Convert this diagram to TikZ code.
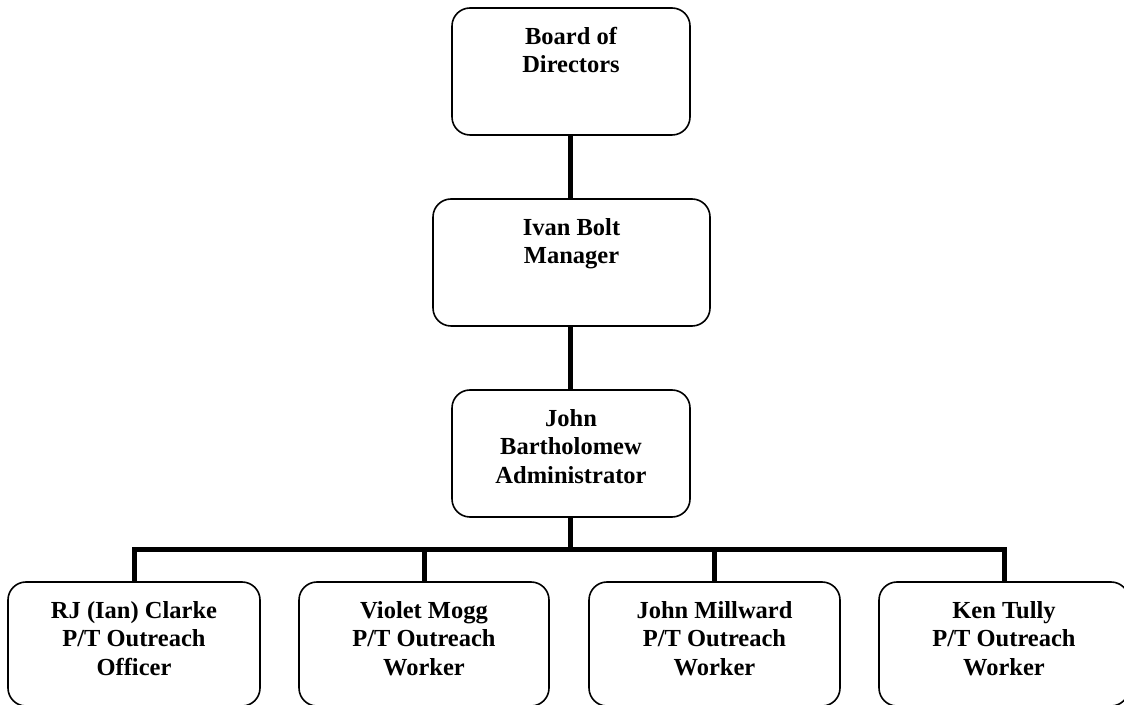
\documentclass[tikz,border=0pt]{standalone}
\usepackage{fontspec}
\setmainfont{Liberation Serif}
\usetikzlibrary{calc}
\begin{document}
\begin{tikzpicture}[x=1pt,y=1pt,
  box/.style={draw=black, line width=1.6pt, rounded corners=18pt, fill=white, inner sep=0pt},
  lbl/.style={anchor=base, align=center, inner sep=0pt, font=\fontsize{24.5}{28.5}\selectfont\bfseries},
  conn/.style={line width=5pt, line join=miter}]
\useasboundingbox (0,0) rectangle (1124,704);
\clip (0,0) rectangle (1124,704);
\fill[white] (0,0) rectangle (1124,704);
% boxes
\node[box, minimum width=238pt, minimum height=127pt] (board) at (571,632.5) {};
\node[box, minimum width=277pt, minimum height=127pt] (ivan) at (571.5,441.5) {};
\node[box, minimum width=238pt, minimum height=127pt] (john) at (571,250.5) {};
\node[box, minimum width=252pt, minimum height=124pt] (rj) at (134,60) {};
\node[box, minimum width=250pt, minimum height=124pt] (violet) at (424,60) {};
\node[box, minimum width=251pt, minimum height=124pt] (millward) at (714.5,60) {};
\node[box, minimum width=250pt, minimum height=124pt] (ken) at (1004,60) {};
% labels (base anchor = last line's baseline)
\node[lbl] (boardt) at ($(board.north)+(0,-65.5)$) {Board of\\Directors};
\node[lbl] (ivant) at ($(ivan.north)+(0,-65.5)$) {Ivan Bolt\\Manager};
\node[lbl] (johnt) at ($(john.north)+(0,-94)$) {John\\Bartholomew\\Administrator};
\node[lbl] (rjt) at ($(rj.north)+(0,-94)$) {RJ (Ian) Clarke\\P/T Outreach\\Officer};
\node[lbl] (violett) at ($(violet.north)+(0,-94)$) {Violet Mogg\\P/T Outreach\\Worker};
\node[lbl] (millwardt) at ($(millward.north)+(0,-94)$) {John Millward\\P/T Outreach\\Worker};
\node[lbl] (kent) at ($(ken.north)+(0,-94)$) {Ken Tully\\P/T Outreach\\Worker};
% connectors
\coordinate (bus) at (570,154);
\draw[conn] (board.south -| bus) -- (ivan.north -| bus);
\draw[conn] (ivan.south -| bus) -- (john.north -| bus);
\draw[conn] (john.south -| bus) -- (bus);
\draw[conn] (rj.north) |- (bus) -| (ken.north);
\draw[conn] (violet.north) -- (violet.north |- bus);
\draw[conn] (millward.north) -- (millward.north |- bus);
\end{tikzpicture}
\end{document}
